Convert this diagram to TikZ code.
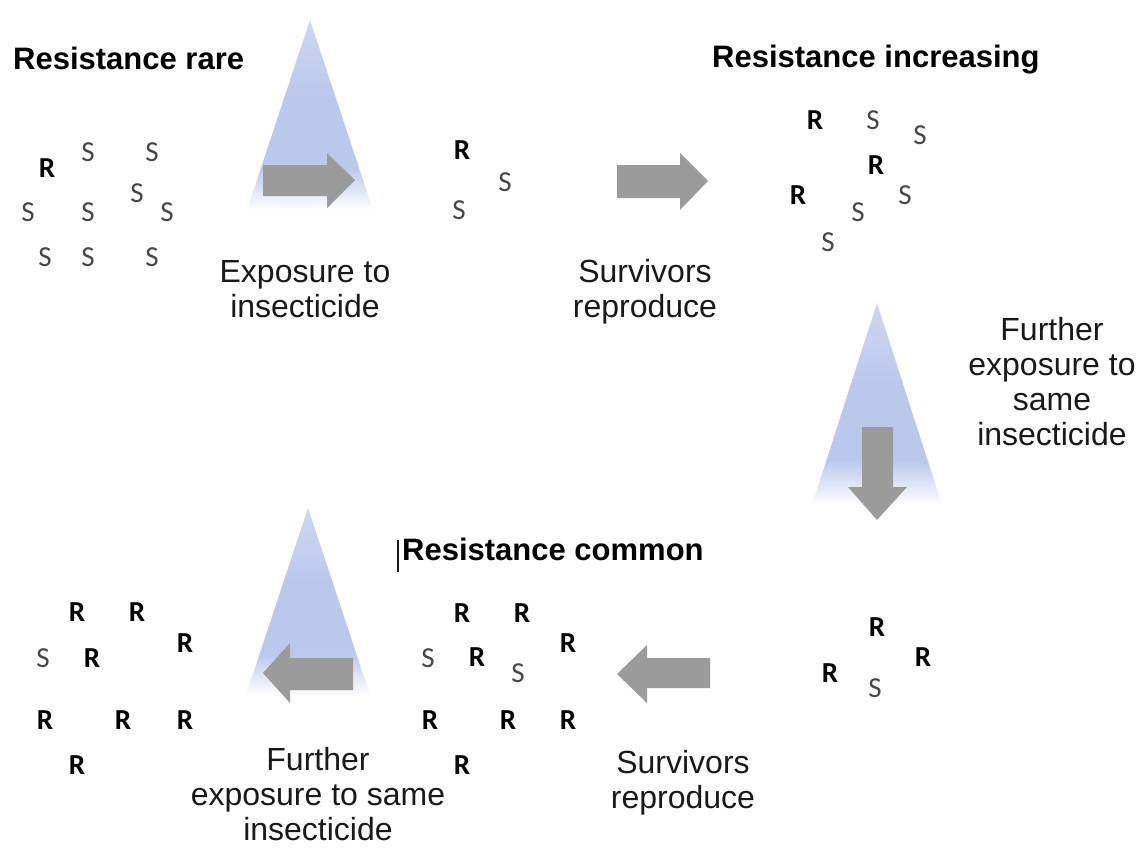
\documentclass[tikz,border=0pt]{standalone}
\usepackage{fontspec}
\setmainfont{Liberation Sans}
\newfontfamily\calib{Carlito}
\usepackage{tikz}
\definecolor{conetop}{RGB}{206,215,239}
\definecolor{conemid}{RGB}{186,200,235}
\definecolor{arrgray}{RGB}{155,155,155}
\definecolor{sgray}{RGB}{70,70,70}
\definecolor{lblcol}{RGB}{25,25,25}
\pgfdeclareverticalshading{cone}{100bp}{color(0bp)=(white); color(25bp)=(white); color(36bp)=(conemid); color(55bp)=(conemid); color(75bp)=(conetop); color(100bp)=(conetop)}

\begin{document}
\begin{tikzpicture}[x=1pt,y=-1pt,line join=bevel,
  res/.style={font=\calib\bfseries\fontsize{29}{29}\selectfont,inner sep=0pt},
  sus/.style={font=\calib\fontsize{29}{29}\selectfont,text=sgray,inner sep=0pt},
  head/.style={font=\bfseries\fontsize{31}{35}\selectfont,anchor=base west,inner sep=0pt},
  lbl/.style={font=\fontsize{32}{35}\selectfont,align=center,anchor=north,inner sep=0pt,text=lblcol}]
\useasboundingbox (0,0) rectangle (1146,851);
%%
\begin{scope}
  \shade[shading=cone] (310,20) -- (373,210) -- (247,210) -- cycle;
  \shade[shading=cone] (877,303) -- (942,505) -- (812,505) -- cycle;
  \shade[shading=cone] (308,508) -- (370,695) -- (246,695) -- cycle;
\end{scope}
\begin{scope}
  \fill[arrgray] (263,165) -- (327,165) -- (327,153) -- (355,180) -- (327,208) -- (327,196) -- (263,196) -- cycle;
  \fill[arrgray] (617,165) -- (680,165) -- (680,153) -- (708,181) -- (680,210) -- (680,198) -- (617,198) -- cycle;
  \fill[arrgray] (862,427) -- (893,427) -- (893,487) -- (907,487) -- (877,520) -- (848,487) -- (862,487) -- cycle;
  \fill[arrgray] (353,658) -- (290,658) -- (290,643) -- (263,673) -- (290,703) -- (290,690) -- (353,690) -- cycle;
  \fill[arrgray] (710,658) -- (647,658) -- (647,645) -- (617,674) -- (647,703) -- (647,688) -- (710,688) -- cycle;
\end{scope}
  % headings
  \node (rare) at (13,70) [head] {Resistance rare};
  \node (increasing) at (712,68) [head] {Resistance increasing};
  \node (common) at (402,560) [head] {Resistance common};
  \coordinate (caret) at (398,540);
  \draw[line width=1.3pt,lblcol] (caret) -- ++(0,32);
  % labels
  \node (expose) at (305,260) [lbl] {Exposure to\\insecticide};
  \node (survive) at (645,259) [lbl] {Survivors\\reproduce};
  \node (further) at (1052,317) [lbl] {Further\\exposure to\\same\\insecticide};
  \node (furtherb) at (318,747) [lbl] {Further\\exposure to same\\insecticide};
  \node (surviveb) at (683,750) [lbl] {Survivors\\reproduce};
  % resistance rare
  \node (p1r1) at (47,168) [res] {R};
  \node (p1s1) at (88,152) [sus] {S};
  \node (p1s2) at (152,152) [sus] {S};
  \node (p1s3) at (28,212) [sus] {S};
  \node (p1s4) at (88,212) [sus] {S};
  \node (p1s5) at (137,193) [sus] {S};
  \node (p1s6) at (167,212) [sus] {S};
  \node (p1s7) at (45,257) [sus] {S};
  \node (p1s8) at (88,257) [sus] {S};
  \node (p1s9) at (152,257) [sus] {S};
  % survivors
  \node (p2r1) at (462,150) [res] {R};
  \node (p2s1) at (505,182) [sus] {S};
  \node (p2s2) at (459,210) [sus] {S};
  % resistance increasing
  \node (p3r1) at (815,120) [res] {R};
  \node (p3s1) at (873,120) [sus] {S};
  \node (p3s2) at (920,135) [sus] {S};
  \node (p3r2) at (876,165) [res] {R};
  \node (p3r3) at (798,195) [res] {R};
  \node (p3s3) at (905,195) [sus] {S};
  \node (p3s4) at (858,212) [sus] {S};
  \node (p3s5) at (828,242) [sus] {S};
  % survivors
  \node (p4r1) at (877,627) [res] {R};
  \node (p4r2) at (923,657) [res] {R};
  \node (p4r3) at (830,673) [res] {R};
  \node (p4s1) at (875,688) [sus] {S};
  % resistance common
  \node (p5r1) at (462,613) [res] {R};
  \node (p5r2) at (522,613) [res] {R};
  \node (p5r3) at (568,643) [res] {R};
  \node (p5s1) at (428,658) [sus] {S};
  \node (p5r4) at (477,657) [res] {R};
  \node (p5s2) at (518,673) [sus] {S};
  \node (p5r5) at (430,720) [res] {R};
  \node (p5r6) at (508,720) [res] {R};
  \node (p5r7) at (568,720) [res] {R};
  \node (p5r8) at (462,765) [res] {R};
  % survivors
  \node (p6r1) at (77,612) [res] {R};
  \node (p6r2) at (137,612) [res] {R};
  \node (p6r3) at (185,643) [res] {R};
  \node (p6s1) at (43,658) [sus] {S};
  \node (p6r4) at (92,658) [res] {R};
  \node (p6r5) at (45,720) [res] {R};
  \node (p6r6) at (123,720) [res] {R};
  \node (p6r7) at (185,720) [res] {R};
  \node (p6r8) at (77,765) [res] {R};
%
\end{tikzpicture}
\end{document}
